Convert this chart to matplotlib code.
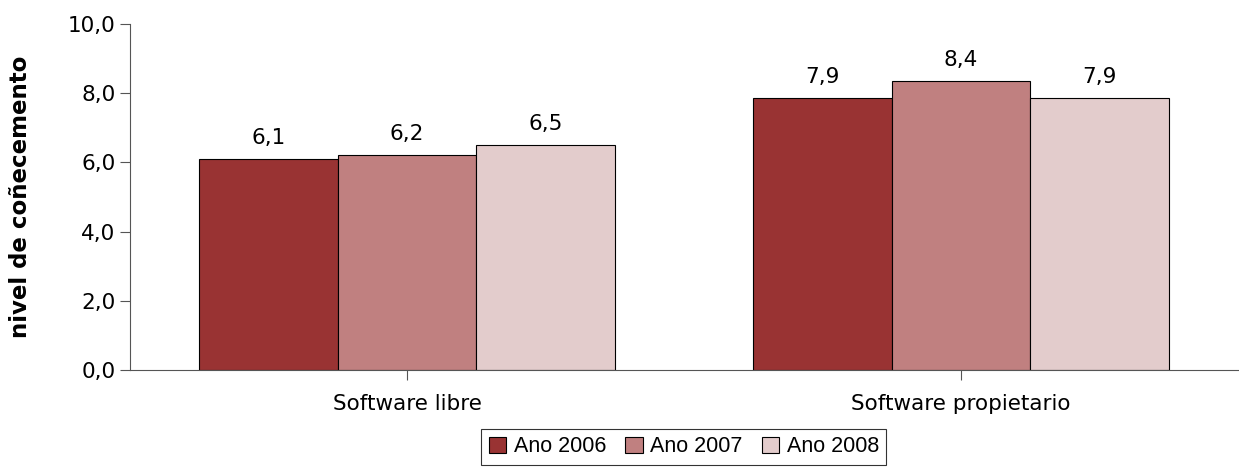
import matplotlib
matplotlib.use("Agg")
import matplotlib.pyplot as plt
import numpy as np

categories = ["Software libre", "Software propietario"]
years = ["Ano 2006", "Ano 2007", "Ano 2008"]
values = {
    "Ano 2006": [6.1, 7.87],
    "Ano 2007": [6.2, 8.36],
    "Ano 2008": [6.5, 7.86],
}
colors = ["#993333", "#c08080", "#e3cccc"]

fig = plt.figure(figsize=(12.39, 4.69), dpi=100)
ax = fig.add_axes([0.105, 0.211, 0.894, 0.738])

x = np.arange(len(categories))
width = 0.25
for i, year in enumerate(years):
    offset = (i - 1) * width
    rects = ax.bar(x + offset, values[year], width, color=colors[i],
                   edgecolor="black", linewidth=0.8, label=year)
    labels = [f"{v:.1f}".replace(".", ",") for v in values[year]]
    ax.bar_label(rects, labels=labels, padding=8, fontsize=15.5)

ax.set_xlim(-0.5, 1.5)
ax.set_ylim(0, 10)
yt = np.arange(0, 10.1, 2)
ax.set_yticks(yt)
ax.set_yticklabels([f"{v:.1f}".replace(".", ",") for v in yt])
ax.set_xticks(x)
ax.set_xticklabels(categories)
ax.tick_params(axis="both", labelsize=15.5, color="#555555", length=7)
ax.tick_params(axis="x", pad=10)
ax.set_ylabel("nivel de coñecemento", fontsize=16.5, fontweight="bold")
ax.yaxis.set_label_coords(-0.089, 0.5)

for s in ["top", "right"]:
    ax.spines[s].set_visible(False)
for s in ["left", "bottom"]:
    ax.spines[s].set_color("#555555")

leg = ax.legend(loc="upper center", bbox_to_anchor=(0.5, -0.17), ncols=3,
                frameon=True, fancybox=False, edgecolor="black",
                prop={"family": "Liberation Sans", "size": 15.5},
                handlelength=0.8, handleheight=0.8, handletextpad=0.35,
                columnspacing=0.9, borderpad=0.35, borderaxespad=0)
leg.get_frame().set_linewidth(0.8)

fig.savefig("out.png", dpi=100)
